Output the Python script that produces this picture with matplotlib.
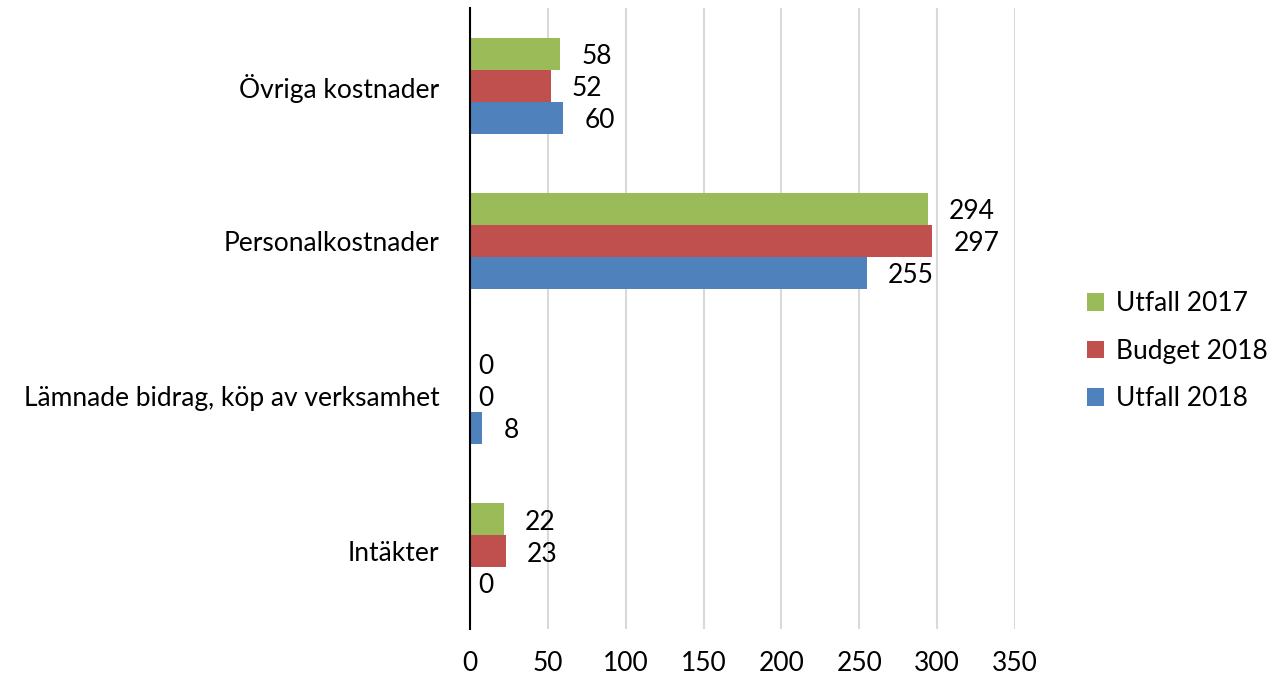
import numpy as np
import matplotlib
matplotlib.use("Agg")
import matplotlib.pyplot as plt

plt.rcParams['font.family'] = ['Lato', 'DejaVu Sans']

categories = ["Intäkter", "Lämnade bidrag, köp av verksamhet", "Personalkostnader", "Övriga kostnader"]
series_names = ["Utfall 2017", "Budget 2018", "Utfall 2018"]
utfall_2017 = [22, 0, 294, 58]
budget_2018 = [23, 0, 297, 52]
utfall_2018 = [0, 8, 255, 60]
colors = ["#9BBB59", "#C0504D", "#4F81BD"]

fs = 19

fig = plt.figure(figsize=(12.75, 6.82), dpi=100)
ax = fig.add_axes([0.3686, 0.078, 0.4275, 0.91])

y = np.arange(len(categories))
h = 0.206
offsets = [h, 0, -h]
values = [utfall_2017, budget_2018, utfall_2018]

for vals, off, col, name in zip(values, offsets, colors, series_names):
    bars = ax.barh(y + off, vals, height=h, color=col, label=name, zorder=3)
    for b, v in zip(bars, vals):
        # zero labels sit closer to the axis
        dx = 6 if v == 0 else 15
        ax.annotate(str(v), (b.get_width(), b.get_y() + b.get_height() / 2),
                    xytext=(dx, -2), textcoords="offset points",
                    ha="left", va="center", fontsize=fs)

ax.set_xlim(0, 350)
ax.set_ylim(-0.5, 3.5)
ax.set_xticks(np.arange(0, 351, 50))
ax.set_yticks(y)
ax.set_yticklabels(categories)
ax.tick_params(axis="both", length=0, labelsize=fs)
ax.tick_params(axis="y", pad=22)
ax.tick_params(axis="x", pad=16)
ax.grid(axis="x", color="#D9D9D9", linewidth=1.5, zorder=0)
for s in ["top", "right", "bottom"]:
    ax.spines[s].set_visible(False)
ax.spines["left"].set_color("black")
ax.spines["left"].set_linewidth(1.5)
ax.spines["left"].set_zorder(4)

handles, labels = ax.get_legend_handles_labels()
fig.legend(handles, labels, loc="center left", bbox_to_anchor=(0.834, 0.485),
           frameon=False, fontsize=fs, handlelength=0.65, handleheight=0.65,
           handletextpad=0.45, labelspacing=0.85)

fig.savefig("out.png", dpi=100)
